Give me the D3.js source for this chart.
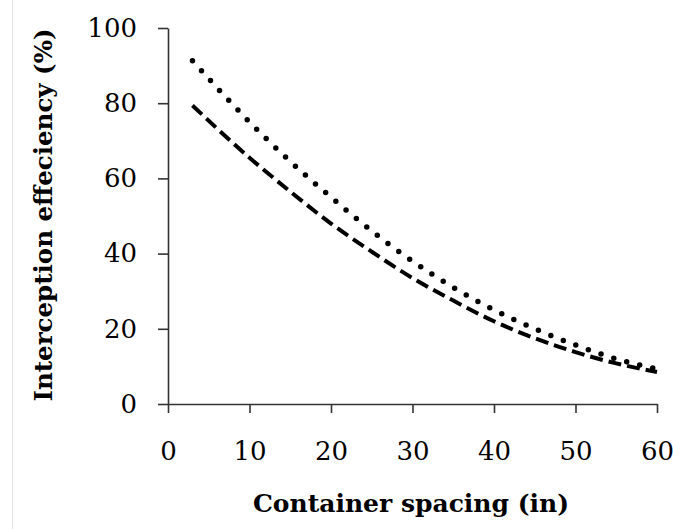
<!DOCTYPE html>
<html>
<head>
<script src="https://cdn.jsdelivr.net/npm/d3@7"></script>
<style>
  body { margin: 0; background: #fff; }
  text { font-family: "DejaVu Serif", serif; }
</style>
</head>
<body>
<script>
  var w = 673;
  var h = 529;

  // container spacing (in)
  var spacing = [3, 10, 15, 20, 25, 30, 35, 40, 45, 50, 55, 60];
  // interception efficiency (%), two series
  var dotted = [91.3, 75, 64.5, 55, 46, 38, 31, 25, 20, 15.7, 12, 9.3];
  var dashed = [79.4, 65.5, 56.5, 48, 40.5, 33.5, 27.5, 22, 17.5, 13.8, 10.8, 8.5];
  var xTicks = [0, 10, 20, 30, 40, 50, 60];
  var yTicks = [0, 20, 40, 60, 80, 100];

  var svg = d3.select("body")
    .append("svg")
    .attr("width", w)
    .attr("height", h);

  // faint frame line on the left
  svg.append("line")
    .attr("x1", 12.5).attr("x2", 12.5)
    .attr("y1", 0).attr("y2", h)
    .attr("stroke", "#e3e3e3")
    .attr("stroke-width", 1);

  var xScale = d3.scaleLinear().domain([0, 60]).range([168, 657]);
  var yScale = d3.scaleLinear().domain([0, 100]).range([404, 28]);

  var xAxis = d3.axisBottom(xScale).tickValues(xTicks).tickSize(9).tickSizeOuter(0).tickPadding(29);
  var yAxis = d3.axisLeft(yScale).tickValues(yTicks).tickSize(10).tickSizeOuter(0).tickPadding(21);

  var gx = svg.append("g")
    .attr("transform", "translate(0," + yScale(0) + ")")
    .call(xAxis);
  var gy = svg.append("g")
    .attr("transform", "translate(" + xScale(0) + ",0)")
    .call(yAxis);

  [gx, gy].forEach(function (g) {
    g.select(".domain").attr("stroke", "#333").attr("stroke-width", 1.6);
    g.selectAll(".tick line").attr("stroke", "#333").attr("stroke-width", 1.6);
    g.selectAll(".tick text")
      .attr("fill", "#000")
      .style("font-family", "'DejaVu Serif', serif")
      .style("font-size", "26px");
  });

  var line = d3.line()
    .x(function (d) { return xScale(d[0]); })
    .y(function (d) { return yScale(d[1]); })
    .curve(d3.curveMonotoneX);

  svg.append("path")
    .datum(d3.zip(spacing, dashed))
    .attr("d", line)
    .attr("fill", "none")
    .attr("stroke", "#000")
    .attr("stroke-width", 4)
    .attr("stroke-dasharray", "13,6");

  svg.append("path")
    .datum(d3.zip(spacing, dotted))
    .attr("d", line)
    .attr("fill", "none")
    .attr("stroke", "#000")
    .attr("stroke-width", 5.5)
    .attr("stroke-linecap", "round")
    .attr("stroke-dasharray", "0,13.4");

  svg.append("text")
    .attr("x", 411)
    .attr("y", 512)
    .attr("text-anchor", "middle")
    .style("font-size", "25px")
    .style("font-weight", "bold")
    .text("Container spacing (in)");

  svg.append("text")
    .attr("transform", "translate(52,215) rotate(-90)")
    .attr("text-anchor", "middle")
    .style("font-size", "24.5px")
    .style("font-weight", "bold")
    .text("Interception effeciency (%)");
</script>
</body>
</html>
